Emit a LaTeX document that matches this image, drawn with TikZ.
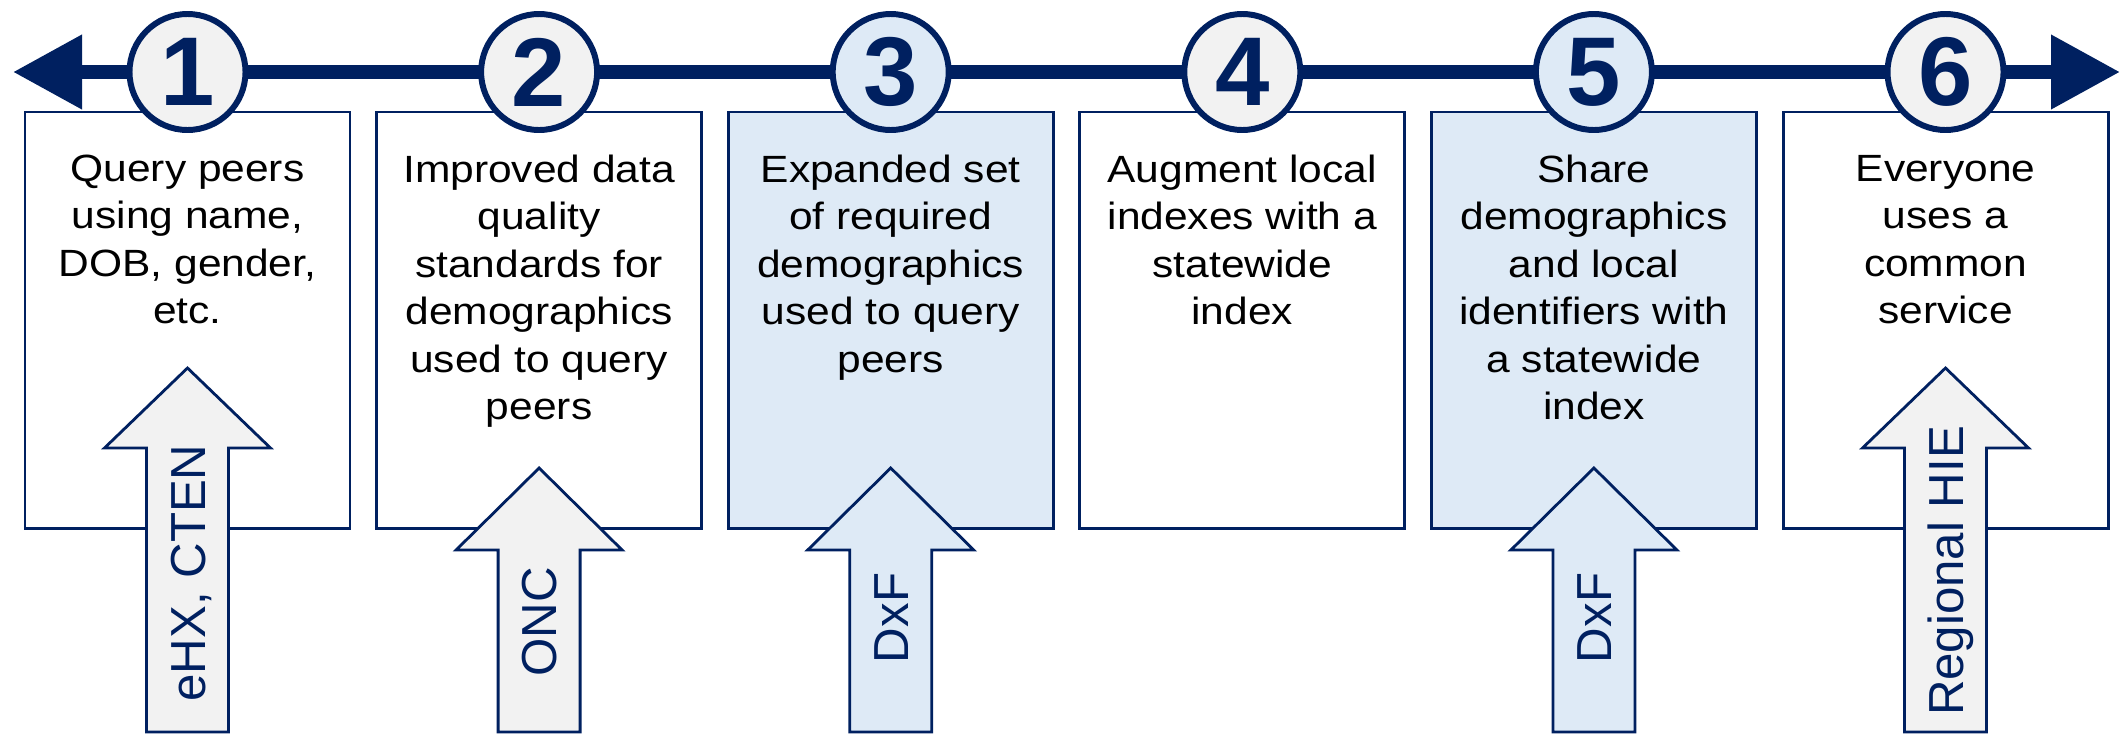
\documentclass[tikz,border=0pt]{standalone}
\usepackage{fontspec}
\setmainfont{Liberation Sans}
\newfontfamily\phasefont[FakeStretch=1.12]{Liberation Sans}
\usetikzlibrary{arrows.meta}
\definecolor{navy}{HTML}{002060}
\definecolor{paleblue}{HTML}{DEEAF6}
\definecolor{palegray}{HTML}{F2F2F2}
\tikzset{
  phase/.style={draw=navy, line width=0.85pt, fill=white, inner sep=0pt,
    minimum width=3.25cm, minimum height=4.16cm},
  phasetext/.style={anchor=north, align=center, inner sep=0pt,
    font=\phasefont\fontsize{10.8}{13.5}\selectfont},
  badge/.style={circle, draw=navy, line width=1.7pt, fill=palegray, inner sep=0pt,
    minimum size=1.16cm, text=navy, font=\fontsize{27.8}{30}\selectfont\bfseries},
  timeline/.style={draw=navy, line width=0.14cm,
    {Triangle[length=0.69cm,width=0.71cm]}-{Triangle[length=0.69cm,width=0.71cm]}},
  lift/.style={draw=navy, line width=0.8pt, fill=palegray, line join=miter},
  liftlabel/.style={rotate=90, inner sep=0pt, text=navy, text height=10pt, text depth=0pt,
    font=\fontsize{14}{16}\selectfont}
}
\begin{document}
\begin{tikzpicture}
\useasboundingbox (0,0) rectangle (21.22,7.35);
% phase boxes
\node[phase] (p1) at (1.875,4.15) {};
\node[phase] (p2) at (5.391,4.15) {};
\node[phase, fill=paleblue] (p3) at (8.907,4.15) {};
\node[phase] (p4) at (12.423,4.15) {};
\node[phase, fill=paleblue] (p5) at (15.939,4.15) {};
\node[phase] (p6) at (19.455,4.15) {};
%
\node[phasetext] (t1) at (1.875,5.807) {Query peers\\using name,\\DOB, gender,\\etc.};
\node[phasetext] (t2) at (5.391,5.807) {Improved data\\quality\\standards for\\demographics\\used to query\\peers};
\node[phasetext] (t3) at (8.907,5.807) {Expanded set\\of required\\demographics\\used to query\\peers};
\node[phasetext] (t4) at (12.423,5.807) {Augment local\\indexes with a\\statewide\\index};
\node[phasetext] (t5) at (15.939,5.807) {Share\\demographics\\and local\\identifiers with\\a statewide\\index};
\node[phasetext] (t6) at (19.455,5.807) {Everyone\\uses a\\common\\service};
% timeline
\coordinate (tl) at (0.13,6.63);
\coordinate (tr) at (21.20,6.63);
\draw[timeline] (tl) -- (tr);
\node[badge] (b1) at (1.875,6.63) {1};
\node[badge] (b2) at (5.391,6.63) {2};
\node[badge, fill=paleblue] (b3) at (8.907,6.63) {3};
\node[badge] (b4) at (12.423,6.63) {4};
\node[badge, fill=paleblue] (b5) at (15.939,6.63) {5};
\node[badge] (b6) at (19.455,6.63) {6};
% lift arrows
\coordinate (a1) at (1.875,0.03);
\coordinate (a2) at (5.391,0.03);
\coordinate (a3) at (8.907,0.03);
\coordinate (a5) at (15.939,0.03);
\coordinate (a6) at (19.455,0.03);
\draw[lift] (a1) ++(-0.41,0) -- ++(0,2.84) -- ++(-0.42,0) -- ++(0.83,0.80) -- ++(0.83,-0.80) -- ++(-0.42,0) -- ++(0,-2.84) -- cycle;
\draw[lift] (a2) ++(-0.41,0) -- ++(0,1.82) -- ++(-0.42,0) -- ++(0.83,0.82) -- ++(0.83,-0.82) -- ++(-0.42,0) -- ++(0,-1.82) -- cycle;
\draw[lift, fill=paleblue] (a3) ++(-0.41,0) -- ++(0,1.82) -- ++(-0.42,0) -- ++(0.83,0.82) -- ++(0.83,-0.82) -- ++(-0.42,0) -- ++(0,-1.82) -- cycle;
\draw[lift, fill=paleblue] (a5) ++(-0.41,0) -- ++(0,1.82) -- ++(-0.42,0) -- ++(0.83,0.82) -- ++(0.83,-0.82) -- ++(-0.42,0) -- ++(0,-1.82) -- cycle;
\draw[lift] (a6) ++(-0.41,0) -- ++(0,2.84) -- ++(-0.42,0) -- ++(0.83,0.80) -- ++(0.83,-0.80) -- ++(-0.42,0) -- ++(0,-2.84) -- cycle;
%
\node[liftlabel] (l1) at (1.875,1.62) {eHX, CTEN};
\node[liftlabel] (l2) at (5.391,1.13) {ONC};
\node[liftlabel] (l3) at (8.907,1.17) {DxF};
\node[liftlabel] (l5) at (15.939,1.17) {DxF};
\node[liftlabel] (l6) at (19.455,1.64) {Regional HIE};
\end{tikzpicture}
\end{document}
